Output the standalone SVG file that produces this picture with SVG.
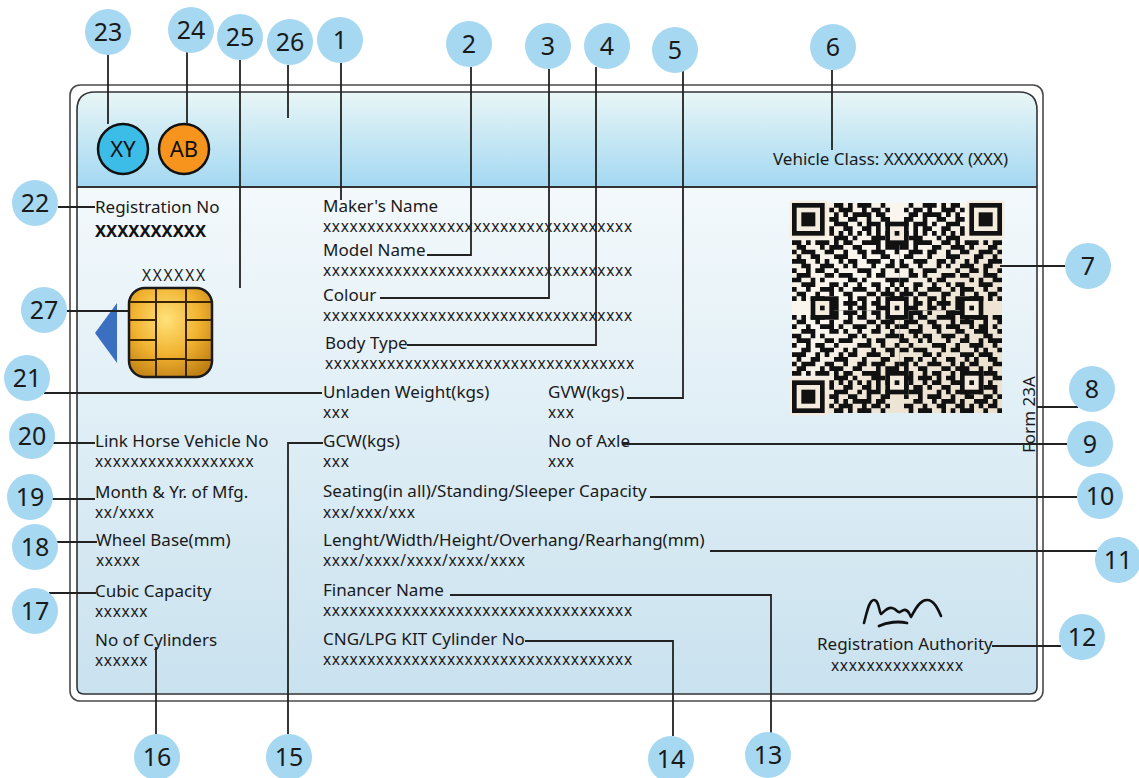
<svg xmlns="http://www.w3.org/2000/svg" width="1139" height="778" viewBox="0 0 1139 778">
<defs>
<linearGradient id="hdr" x1="0" y1="0" x2="0" y2="1"><stop offset="0" stop-color="#e9f6f6"/><stop offset="1" stop-color="#a3d8f2"/></linearGradient>
<linearGradient id="bdy" x1="0" y1="0" x2="0" y2="1"><stop offset="0" stop-color="#fbfdfe"/><stop offset="1" stop-color="#c9e2ef"/></linearGradient>
<radialGradient id="gold" cx="0.45" cy="0.35" r="0.8"><stop offset="0" stop-color="#ffe27a"/><stop offset="0.5" stop-color="#f1b230"/><stop offset="1" stop-color="#b4740e"/></radialGradient>
<linearGradient id="qrbg" x1="0" y1="0" x2="1" y2="1"><stop offset="0" stop-color="#f6eee0"/><stop offset="0.35" stop-color="#fbf8f2"/><stop offset="0.6" stop-color="#efe6d6"/><stop offset="1" stop-color="#ebe1cf"/></linearGradient>
<clipPath id="q1"><rect x="0" y="0" width="23" height="23"/></clipPath>
<clipPath id="q2"><rect x="23" y="0" width="22" height="23"/></clipPath>
<clipPath id="q3"><rect x="0" y="23" width="23" height="22"/></clipPath>
<clipPath id="q4"><rect x="23" y="23" width="22" height="22"/></clipPath>
<path id="qd" fill="none" stroke="#111" stroke-width="1" d="M9 .5h2M12 .5h1M14 .5h3M19 .5h1M8 1.5h1M10 1.5h3M15 1.5h1M17 1.5h2M20 1.5h1M9 2.5h1M11 2.5h1M13 2.5h4M18 2.5h2M8 3.5h2M12 3.5h2M16 3.5h1M19 3.5h2M9 4.5h3M14 4.5h1M16 4.5h3M20 4.5h1M8 5.5h1M11 5.5h2M15 5.5h2M18 5.5h1M8 6.5h1M10 6.5h1M12 6.5h1M14 6.5h1M16 6.5h1M18 6.5h1M20 6.5h1M9 7.5h3M13 7.5h1M17 7.5h3M0 8.5h2M3 8.5h1M5 8.5h3M9 8.5h1M11 8.5h2M15 8.5h4M21 8.5h1M23 8.5h3M27 8.5h2M1 9.5h2M6 9.5h1M8 9.5h3M13 9.5h2M18 9.5h1M20 9.5h3M25 9.5h1M28 9.5h1M0 10.5h1M2 10.5h3M7 10.5h2M11 10.5h1M14 10.5h2M17 10.5h3M22 10.5h1M24 10.5h2M27 10.5h1M1 11.5h1M4 11.5h2M9 11.5h3M15 11.5h1M19 11.5h2M23 11.5h3M28 11.5h1M0 12.5h3M5 12.5h1M7 12.5h1M10 12.5h1M12 12.5h2M16 12.5h3M21 12.5h1M25 12.5h2M2 13.5h2M6 13.5h3M11 13.5h1M13 13.5h1M17 13.5h1M20 13.5h2M24 13.5h1M26 13.5h3M0 14.5h1M3 14.5h1M5 14.5h2M9 14.5h1M14 14.5h3M19 14.5h1M22 14.5h3M27 14.5h1M1 15.5h3M7 15.5h2M10 15.5h3M16 15.5h1M18 15.5h2M23 15.5h1M25 15.5h1M28 15.5h1M0 16.5h2M4 16.5h1M6 16.5h1M12 16.5h2M15 16.5h1M20 16.5h3M24 16.5h3M2 17.5h3M8 17.5h2M11 17.5h1M14 17.5h1M17 17.5h2M21 17.5h1M23 17.5h1M26 17.5h2M0 18.5h1M3 18.5h1M6 18.5h3M10 18.5h1M13 18.5h3M18 18.5h1M20 18.5h1M22 18.5h2M27 18.5h2M1 19.5h2M5 19.5h1M8 19.5h1M11 19.5h2M16 19.5h2M19 19.5h3M24 19.5h1M26 19.5h1M0 20.5h1M2 20.5h1M4 20.5h3M9 20.5h1M12 20.5h1M14 20.5h2M18 20.5h1M21 20.5h2M25 20.5h3M8 21.5h2M11 21.5h3M15 21.5h1M17 21.5h2M22 21.5h1M24 21.5h1M27 21.5h2M9 22.5h1M12 22.5h1M14 22.5h2M18 22.5h3M23 22.5h2M26 22.5h1M8 23.5h1M10 23.5h2M13 23.5h1M16 23.5h2M20 23.5h1M22 23.5h1M25 23.5h3M9 24.5h3M15 24.5h1M17 24.5h1M19 24.5h3M24 24.5h1M27 24.5h1M8 25.5h1M11 25.5h1M13 25.5h3M18 25.5h1M21 25.5h2M25 25.5h2M28 25.5h1M10 26.5h2M14 26.5h1M16 26.5h3M20 26.5h1M23 26.5h3M27 26.5h1M8 27.5h2M12 27.5h1M15 27.5h2M19 27.5h2M22 27.5h1M24 27.5h1M26 27.5h2M9 28.5h1M11 28.5h3M16 28.5h1M18 28.5h1M20 28.5h3M25 28.5h1M28 28.5h1"/>
<g id="fd"><rect x="-0.5" y="-0.5" width="8" height="8" fill="#f4ecde"/><rect width="7" height="7" fill="#111"/><rect x="1" y="1" width="5" height="5" fill="#f4ecde"/><rect x="2" y="2" width="3" height="3" fill="#111"/></g>
<g id="al"><rect width="5" height="5" fill="#111"/><rect x="1" y="1" width="3" height="3" fill="#f4ecde"/><rect x="2" y="2" width="1" height="1" fill="#111"/></g>
<style>
.lbl{font-family:"Noto Sans","Open Sans","Liberation Sans",sans-serif;font-size:17px;fill:#1a1a1a}
.val{font-family:"Noto Sans","Open Sans","Liberation Sans",sans-serif;font-size:15.5px;letter-spacing:0.65px;fill:#1a1a1a}
.num{font-family:"Noto Sans","Open Sans","Liberation Sans",sans-serif;font-size:25px;fill:#1a1a1a;text-anchor:middle}
.callout circle{fill:#a6d8f2}
.con{fill:none;stroke:#222;stroke-width:1.8}
.grid{stroke:#3a2500;stroke-width:2;fill:none}
</style>
</defs>

<g id="card">
<rect x="70" y="85" width="973" height="616" rx="10" fill="#ffffff" stroke="#4a4a4a" stroke-width="1.6"/>
<path d="M77,110 Q77,92 95,92 H1019 Q1037,92 1037,110 V687 Q1037,694 1030,694 H84 Q77,694 77,687 Z" fill="url(#bdy)"/>
<path d="M77,187 V110 Q77,92 95,92 H1019 Q1037,92 1037,110 V187 Z" fill="url(#hdr)"/>
<line x1="77" y1="187" x2="1037" y2="187" stroke="#333" stroke-width="2"/>
<path d="M77,110 Q77,92 95,92 H1019 Q1037,92 1037,110 V687 Q1037,694 1030,694 H84 Q77,694 77,687 Z" fill="none" stroke="#333" stroke-width="1.6"/>
</g>

<g id="badge-xy">
<circle cx="123" cy="149" r="25" fill="#3cbde8" stroke="#111" stroke-width="2.5"/>
<text x="123" y="157" style="font-family:'Noto Sans','Open Sans',sans-serif;font-size:22px;fill:#111;text-anchor:middle">XY</text>
</g>
<g id="badge-ab">
<circle cx="184" cy="149" r="25" fill="#f7941d" stroke="#111" stroke-width="2.5"/>
<text x="184" y="157" style="font-family:'Noto Sans','Open Sans',sans-serif;font-size:22px;fill:#111;text-anchor:middle">AB</text>
</g>

<g id="vehicle-class">
<text class="lbl" x="1008" y="165" text-anchor="end">Vehicle Class: XXXXXXXX (XXX)</text>
</g>

<g id="registration">
<text class="lbl" x="95" y="213">Registration No</text>
<text x="95" y="237" textLength="111" lengthAdjust="spacingAndGlyphs" style="font-family:'Noto Sans','Open Sans',sans-serif;font-size:16.5px;font-weight:bold;fill:#111">XXXXXXXXXX</text>
</g>

<g id="chip">
<text x="142" y="281" textLength="63" lengthAdjust="spacing" style="font-family:'Noto Sans','Open Sans',sans-serif;font-size:15.5px;fill:#1a1a1a">XXXXXX</text>
<polygon points="117,303 95,333 117,363" fill="#3b6fc2"/>
<rect x="129" y="288" width="83" height="89" rx="16" fill="url(#gold)" stroke="#1a1a1a" stroke-width="2.5"/>
<path class="grid" d="M156,289 V376 M186,289 V376 M130,302 H156 M130,320 H156 M130,340 H156 M130,360 H156 M186,302 H211 M186,320 H211 M186,340 H211 M186,360 H211 M156,302 H186 M156,359 H186"/>
</g>

<g id="qr" transform="translate(792,203) scale(4.667)">
<rect x="0" y="0" width="45" height="45" fill="url(#qrbg)"/>
<g clip-path="url(#q1)"><use href="#qd"/></g>
<g clip-path="url(#q2)"><use href="#qd" transform="translate(45,0) scale(-1,1)"/></g>
<g clip-path="url(#q3)"><use href="#qd" transform="translate(0,45) scale(1,-1)"/></g>
<g clip-path="url(#q4)"><use href="#qd" transform="translate(16,16)"/></g>
<use href="#fd" x="0" y="0"/>
<use href="#fd" x="38" y="0"/>
<use href="#fd" x="0" y="38"/>
<use href="#al" x="20" y="4"/>
<use href="#al" x="4" y="20"/>
<use href="#al" x="20" y="20"/>
<use href="#al" x="36" y="20"/>
<use href="#al" x="20" y="36"/>
<use href="#al" x="36" y="36"/>
</g>

<g id="form">
<text class="lbl" transform="translate(1035,453) rotate(-90)" x="0" y="0">Form 23A</text>
</g>

<g id="fields-left">
<text class="lbl" x="95" y="447">Link Horse Vehicle No</text>
<text class="val" x="95" y="467">xxxxxxxxxxxxxxxxxx</text>
<text class="lbl" x="95" y="498">Month &amp; Yr. of Mfg.</text>
<text class="val" x="95" y="518">xx/xxxx</text>
<text class="lbl" x="96" y="546">Wheel Base(mm)</text>
<text class="val" x="96" y="566">xxxxx</text>
<text class="lbl" x="95" y="597">Cubic Capacity</text>
<text class="val" x="95" y="617">xxxxxx</text>
<text class="lbl" x="95" y="646">No of Cylinders</text>
<text class="val" x="95" y="666">xxxxxx</text>
</g>

<g id="fields-middle">
<text class="lbl" x="323" y="212">Maker's Name</text>
<text class="val" x="323" y="232">xxxxxxxxxxxxxxxxxxxxxxxxxxxxxxxxxxx</text>
<text class="lbl" x="323" y="256">Model Name</text>
<text class="val" x="323" y="276">xxxxxxxxxxxxxxxxxxxxxxxxxxxxxxxxxxx</text>
<text class="lbl" x="323" y="301">Colour</text>
<text class="val" x="323" y="321">xxxxxxxxxxxxxxxxxxxxxxxxxxxxxxxxxxx</text>
<text class="lbl" x="325" y="349">Body Type</text>
<text class="val" x="325" y="369">xxxxxxxxxxxxxxxxxxxxxxxxxxxxxxxxxxx</text>
<text class="lbl" x="323" y="398">Unladen Weight(kgs)</text>
<text class="val" x="323" y="418">xxx</text>
<text class="lbl" x="323" y="447">GCW(kgs)</text>
<text class="val" x="323" y="467">xxx</text>
<text class="lbl" x="323" y="497">Seating(in all)/Standing/Sleeper Capacity</text>
<text class="val" x="323" y="518">xxx/xxx/xxx</text>
<text class="lbl" x="323" y="546">Lenght/Width/Height/Overhang/Rearhang(mm)</text>
<text class="val" x="323" y="566">xxxx/xxxx/xxxx/xxxx/xxxx</text>
<text class="lbl" x="323" y="596">Financer Name</text>
<text class="val" x="323" y="616">xxxxxxxxxxxxxxxxxxxxxxxxxxxxxxxxxxx</text>
<text class="lbl" x="323" y="645">CNG/LPG KIT Cylinder No</text>
<text class="val" x="323" y="665">xxxxxxxxxxxxxxxxxxxxxxxxxxxxxxxxxxx</text>
</g>

<g id="fields-right">
<text class="lbl" x="548" y="398">GVW(kgs)</text>
<text class="val" x="548" y="418">xxx</text>
<text class="lbl" x="548" y="447">No of Axle</text>
<text class="val" x="548" y="467">xxx</text>
</g>

<g id="authority">
<path d="M864,623 C867,612 869,600 874,600 C879,600 879,612 881,614 C884,612 887,607 892,608 C897,609 897,613 900,612 C903,610 906,608 909,613 L911,617 C914,612 919,600 927,600 C934,600 938,609 941,616" fill="none" stroke="#111" stroke-width="2.6" stroke-linecap="round" stroke-linejoin="round"/>
<path d="M879,626 C887,622 899,621 907,623" fill="none" stroke="#111" stroke-width="2.8" stroke-linecap="round"/>
<text class="lbl" x="817" y="650">Registration Authority</text>
<text class="val" x="831" y="671">xxxxxxxxxxxxxxx</text>
</g>

<g id="connectors" class="con">
<path d="M341,63 V200"/>
<path d="M471,67 V255 H427"/>
<path d="M549,69 V298 H380"/>
<path d="M596,67 V345 H407"/>
<path d="M683,71 V398 H627"/>
<path d="M832,70 V150"/>
<path d="M1000,266 H1066"/>
<path d="M1037,407 H1078"/>
<path d="M622,444 H1067"/>
<path d="M650,497 H1077"/>
<path d="M710,551 H1097"/>
<path d="M992,646 H1061"/>
<path d="M450,595 H771 V733"/>
<path d="M525,641 H673 V736"/>
<path d="M288,734 V443 H323"/>
<path d="M156,734 V647"/>
<path d="M49,593 H96"/>
<path d="M57,542 H97"/>
<path d="M52,499 H95"/>
<path d="M53,443 H95"/>
<path d="M44,393 H322"/>
<path d="M58,207 H95"/>
<path d="M108,55 V124"/>
<path d="M187,52 V124"/>
<path d="M240,60 V288"/>
<path d="M288,65 V118"/>
<path d="M67,311 H129"/>
</g>

<g id="n1" class="callout"><circle cx="340" cy="40" r="23"/><text class="num" x="340" y="49">1</text></g>
<g id="n2" class="callout"><circle cx="469" cy="44" r="23"/><text class="num" x="469" y="53">2</text></g>
<g id="n3" class="callout"><circle cx="548" cy="46" r="23"/><text class="num" x="548" y="55">3</text></g>
<g id="n4" class="callout"><circle cx="607" cy="46" r="23"/><text class="num" x="607" y="55">4</text></g>
<g id="n5" class="callout"><circle cx="675" cy="50" r="23"/><text class="num" x="675" y="59">5</text></g>
<g id="n6" class="callout"><circle cx="833" cy="47" r="23"/><text class="num" x="833" y="56">6</text></g>
<g id="n7" class="callout"><circle cx="1088" cy="266" r="23"/><text class="num" x="1088" y="275">7</text></g>
<g id="n8" class="callout"><circle cx="1092" cy="389" r="23"/><text class="num" x="1092" y="398">8</text></g>
<g id="n9" class="callout"><circle cx="1090" cy="444" r="23"/><text class="num" x="1090" y="453">9</text></g>
<g id="n10" class="callout"><circle cx="1100" cy="496" r="23"/><text class="num" x="1100" y="505">10</text></g>
<g id="n11" class="callout"><circle cx="1118" cy="560" r="23"/><text class="num" x="1118" y="569">11</text></g>
<g id="n12" class="callout"><circle cx="1082" cy="637" r="23"/><text class="num" x="1082" y="646">12</text></g>
<g id="n13" class="callout"><circle cx="768" cy="755" r="23"/><text class="num" x="768" y="764">13</text></g>
<g id="n14" class="callout"><circle cx="671" cy="759" r="23"/><text class="num" x="671" y="768">14</text></g>
<g id="n15" class="callout"><circle cx="289" cy="757" r="23"/><text class="num" x="289" y="766">15</text></g>
<g id="n16" class="callout"><circle cx="157" cy="757" r="23"/><text class="num" x="157" y="766">16</text></g>
<g id="n17" class="callout"><circle cx="35" cy="611" r="23"/><text class="num" x="35" y="620">17</text></g>
<g id="n18" class="callout"><circle cx="35" cy="547" r="23"/><text class="num" x="35" y="556">18</text></g>
<g id="n19" class="callout"><circle cx="30" cy="497" r="23"/><text class="num" x="30" y="506">19</text></g>
<g id="n20" class="callout"><circle cx="32" cy="436" r="23"/><text class="num" x="32" y="445">20</text></g>
<g id="n21" class="callout"><circle cx="27" cy="378" r="23"/><text class="num" x="27" y="387">21</text></g>
<g id="n22" class="callout"><circle cx="35" cy="203" r="23"/><text class="num" x="35" y="212">22</text></g>
<g id="n23" class="callout"><circle cx="108" cy="32" r="23"/><text class="num" x="108" y="41">23</text></g>
<g id="n24" class="callout"><circle cx="191" cy="30" r="23"/><text class="num" x="191" y="39">24</text></g>
<g id="n25" class="callout"><circle cx="240" cy="37" r="23"/><text class="num" x="240" y="46">25</text></g>
<g id="n26" class="callout"><circle cx="290" cy="42" r="23"/><text class="num" x="290" y="51">26</text></g>
<g id="n27" class="callout"><circle cx="44" cy="310" r="23"/><text class="num" x="44" y="319">27</text></g>
</svg>
